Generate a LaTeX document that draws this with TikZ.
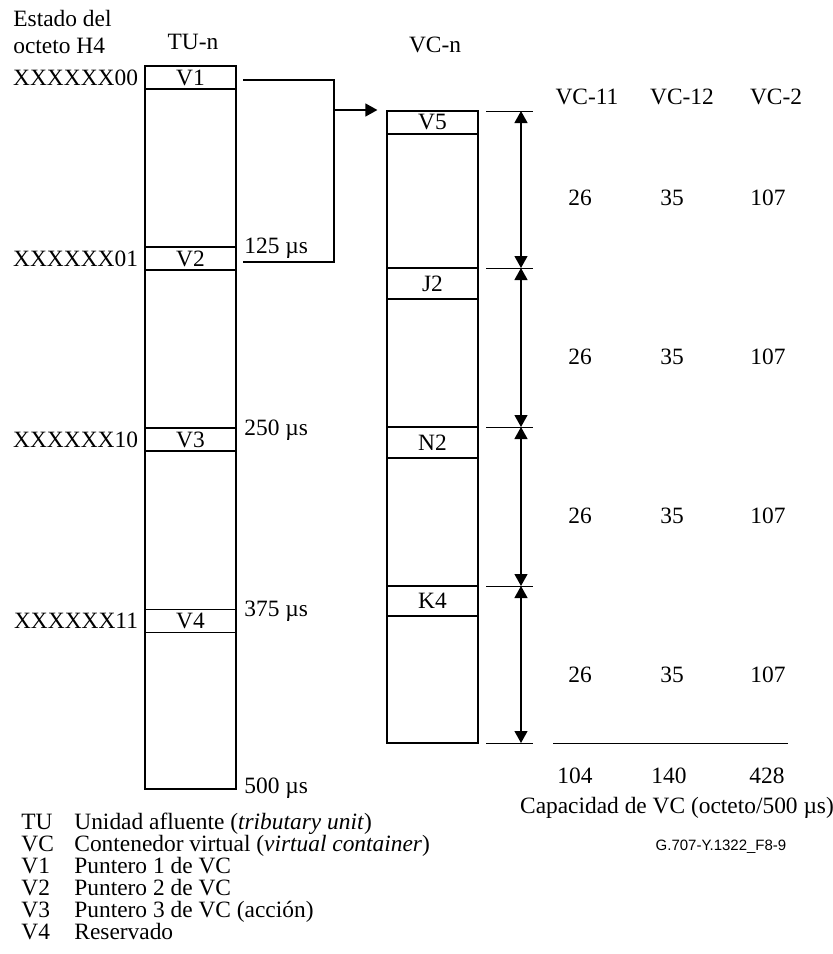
\documentclass[tikz,border=0pt]{standalone}
\usepackage{fontspec}
\setmainfont{Liberation Serif}
\newfontfamily\figsans{Liberation Sans}
\usetikzlibrary{arrows.meta,positioning}

\tikzset{
  frame/.style={draw, minimum width=45.5pt, inner sep=0pt, line width=0.6pt},
  slot/.style={frame, minimum height=11.5pt},
  tick/.style={line width=0.5pt},
  dim/.style={line width=0.6pt, {Triangle[width=6.5pt,length=6pt]}-{Triangle[width=6.5pt,length=6pt]}},
  lbl/.style={inner sep=0pt, anchor=base},
}

\begin{document}
\begin{tikzpicture}[x=0.5pt,y=-0.5pt,font=\fontsize{11.7}{14}\selectfont]
    \useasboundingbox (0,0) rectangle (832,954);
    % headings
    \node[lbl, anchor=base west] (h4a) at (13,26) {Estado del};
    \node[lbl, anchor=base west] (h4b) at (13,53) {octeto H4};
    \node[lbl] (tuname) at (193,49) {TU-n};
    \node[lbl] (vcname) at (435,52) {VC-n};

    % TU-n frame with V1..V4
    \node[frame, minimum height=361.5pt] (tu) at (190.5,427.5) {};
    \node[slot] (v1) at (190.5,77.5) {V1};
    \node[slot] (v2) at (190.5,258.5) {V2};
    \node[slot] (v3) at (190.5,439.5) {V3};
    \node[slot] (v4) at (190.5,621) {V4};
    \node[inner sep=0pt, left=3pt of v1] (s00) {XXXXXX00};
    \node[inner sep=0pt, left=3pt of v2] (s01) {XXXXXX01};
    \node[inner sep=0pt, left=3pt of v3] (s10) {XXXXXX10};
    \node[inner sep=0pt, left=3pt of v4] (s11) {XXXXXX11};
    \node[lbl, anchor=base west] (t125) at (244,253) {125 µs};
    \node[lbl, anchor=base west] (t250) at (244,435) {250 µs};
    \node[lbl, anchor=base west] (t375) at (244,616) {375 µs};
    \node[lbl, anchor=base west] (t500) at (244,793) {500 µs};

    % VC-n frame
    \node[frame, minimum height=316pt] (vc) at (432.5,427) {};
    \node[frame, minimum height=11.5pt] (v5) at (432.5,122.5) {V5};
    \node[frame, minimum height=15.5pt] (j2) at (432.5,283.5) {J2};
    \node[frame, minimum height=15.5pt] (n2) at (432.5,442.5) {N2};
    \node[frame, minimum height=15pt] (k4) at (432.5,601) {K4};

    % pointer from V1/V2 to V5
    \coordinate (c1) at (243,80);
    \coordinate (c2) at (243,262);
    \coordinate (cb) at (334,262);
    \coordinate (cm) at (334,110);
    \draw[line width=0.6pt] (c1) -| (cb) -- (c2);
    \draw[line width=0.6pt, -{Triangle[width=6.5pt,length=6pt]}, shorten >=4.5pt] (cm) -- (cm -| vc.west);

    % dimension ticks and arrows
    \foreach \n/\yy in {0/111,1/268,2/427,3/586,4/743}{
      \draw[tick] (486,\yy) -- (533,\yy);
      \coordinate (d\n) at (521,\yy);
    }
    \foreach \a/\b in {0/1,1/2,2/3,3/4}
      \draw[dim] (d\a) -- (d\b);
    \coordinate (b1) at (553,743);
    \coordinate (b2) at (788,743);
    \draw[tick] (b1) -- (b2);

    % capacities
    \node[lbl] (vc11) at (587,104) {VC-11};
    \node[lbl] (vc12) at (682,104) {VC-12};
    \node[lbl] (vc2) at (776,104) {VC-2};
    \foreach \yy in {205,364,523,682}{
      \node[lbl] (a\yy) at (580,\yy) {26};
      \node[lbl] (b\yy) at (672,\yy) {35};
      \node[lbl] (c\yy) at (768,\yy) {107};
    }
    \node[lbl] (sum11) at (575,783) {104};
    \node[lbl] (sum12) at (669,783) {140};
    \node[lbl] (sum2) at (767,783) {428};
    \node[lbl] (cap) at (677,813) {Capacidad de VC (octeto/500 µs)};
    \node[lbl, font=\figsans\fontsize{7.5}{9}\selectfont] (fig) at (721,850) {G.707-Y.1322\_F8-9};

    % legend
    \foreach \i/\ab/\txt in {0/TU/Unidad afluente (\textit{tributary unit}),
        1/VC/Contenedor virtual (\textit{virtual container}),
        2/V1/Puntero 1 de VC, 3/V2/Puntero 2 de VC,
        4/V3/Puntero 3 de VC (acción), 5/V4/Reservado}{
      \node[lbl, anchor=base west] (ab\i) at (21,829+22*\i) {\ab};
      \node[lbl, anchor=base west] (tx\i) at (74,829+22*\i) {\txt};
    }
  \end{tikzpicture}
\end{document}
